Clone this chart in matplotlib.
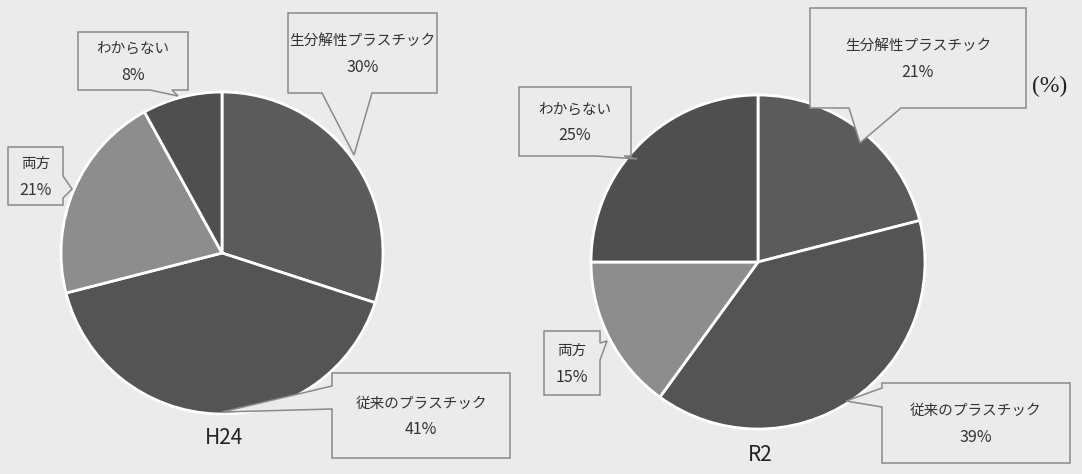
import matplotlib.pyplot as plt
from matplotlib.patches import Polygon

plt.rcParams['font.family'] = ['Noto Sans CJK JP', 'DejaVu Sans']

# data
labels = ['生分解性プラスチック', '従来のプラスチック', '両方', 'わからない']
h24 = [30, 41, 21, 8]
r2 = [21, 39, 15, 25]
colors = ['#5b5b5b', '#545454', '#8d8d8d', '#4f4f4f']
bg = '#ebebeb'

W, H = 1082, 474
fig = plt.figure(figsize=(W / 100, H / 100), dpi=100, facecolor=bg)
ax = fig.add_axes([0, 0, 1, 1])
ax.set_facecolor(bg)


def py(y):
    # pixel row (from top) -> data y
    return H - y


def callout(label, pct, box, side, base, tip):
    # rectangle label box with a triangular pointer on one side
    x0, y0, x1, y1 = box
    b0, b1 = base
    if side == 'top':
        pts = [(x0, y0), (b0, y0), tip, (b1, y0), (x1, y0), (x1, y1), (x0, y1)]
    elif side == 'right':
        pts = [(x0, y0), (x1, y0), (x1, b0), tip, (x1, b1), (x1, y1), (x0, y1)]
    elif side == 'bottom':
        pts = [(x0, y0), (x1, y0), (x1, y1), (b1, y1), tip, (b0, y1), (x0, y1)]
    else:
        pts = [(x0, y0), (x1, y0), (x1, y1), (x0, y1), (x0, b1), tip, (x0, b0)]
    pts = [(x, py(y)) for x, y in pts]
    ax.add_patch(Polygon(pts, closed=True, fc=bg, ec='#8a8a8a', lw=1.1, zorder=3))
    xc, yc = (x0 + x1) / 2, (y0 + y1) / 2
    ax.text(xc, py(yc - 12), label, ha='center', va='center',
            fontsize=10.5, color='#333333', zorder=4)
    ax.text(xc, py(yc + 14), f'{pct}%', ha='center', va='center',
            fontsize=11.5, color='#333333', zorder=4)


def draw_pie(vals, cx, cy, r, name, name_xy, layout):
    ax.pie(vals, colors=colors, startangle=90, counterclock=False,
           center=(cx, py(cy)), radius=r,
           wedgeprops=dict(edgecolor='white', linewidth=2))
    ax.text(name_xy[0], py(name_xy[1]), name, ha='center', va='center',
            fontsize=15, color='#222222')
    for lab, v, (box, side, base, tip) in zip(labels, vals, layout):
        callout(lab, v, box, side, base, tip)


# H24
draw_pie(h24, 222, 253, 161, 'H24', (224, 438), [
    ((288, 13, 437, 93), 'bottom', (322, 372), (354, 155)),
    ((332, 373, 510, 458), 'left', (386, 409), (222, 412)),
    ((8, 147, 63, 205), 'right', (176, 198), (72, 189)),
    ((78, 32, 188, 90), 'bottom', (150, 172), (178, 96)),
])

# R2
draw_pie(r2, 758, 262, 167, 'R2', (760, 455), [
    ((810, 8, 1026, 108), 'bottom', (849, 901), (860, 143)),
    ((882, 383, 1070, 463), 'left', (388, 407), (846, 401)),
    ((544, 331, 600, 395), 'right', (343, 360), (607, 341)),
    ((519, 87, 631, 156), 'bottom', (596, 624), (637, 159)),
])

ax.text(1050, py(86), '(%)', ha='center', va='center', fontsize=17,
        family='Liberation Serif', color='#222222')

ax.set_xlim(0, W)
ax.set_ylim(0, H)
ax.set_aspect('equal')
ax.axis('off')

fig.savefig('out.png', dpi=100, facecolor=bg)
